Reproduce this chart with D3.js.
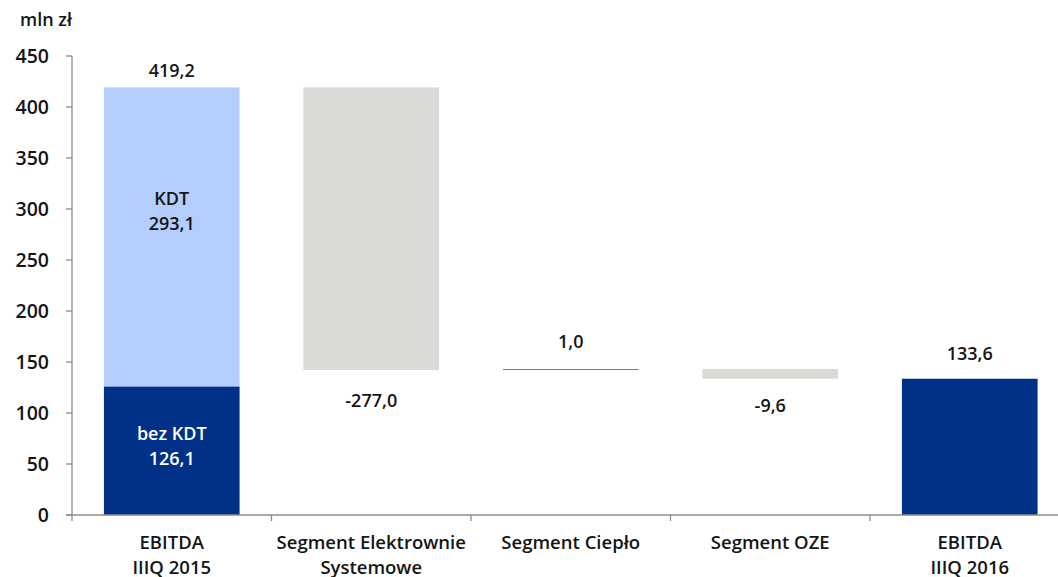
<!DOCTYPE html>
<html><head><meta charset="utf-8">
<script src="https://cdn.jsdelivr.net/npm/d3@7"></script>
<style>body{margin:0;background:#fff;} svg{display:block;font-family:"Open Sans","Noto Sans",sans-serif;}</style>
</head><body>
<svg id="c" width="1058" height="577"></svg>
<script>
const categories = ["EBITDA\nIIIQ 2015", "Segment Elektrownie\nSystemowe", "Segment Ciepło", "Segment OZE", "EBITDA\nIIIQ 2016"];
const startTotalParts = [126.1, 293.1];        // bez KDT, KDT
const partLabels = ["bez KDT", "KDT"];
const deltas = [-277.0, 1.0, -9.6];
const endTotal = 133.6;
const yTicks = [0, 50, 100, 150, 200, 250, 300, 350, 400, 450];
const valueLabels = ["419,2", "-277,0", "1,0", "-9,6", "133,6"];
const partValueLabels = ["126,1", "293,1"];

const svg = d3.select("#c");
const x0 = 72, y0 = 515;
const x = d3.scaleBand().domain(categories).range([x0, x0 + 5 * 199.5]).paddingInner(0.32).paddingOuter(0.16);
const y = d3.scaleLinear().domain([0, 450]).range([y0, 56]);
const FS = 18, FW = 600, TXT = "#151515";

const startTotal = startTotalParts[0] + startTotalParts[1];
const g = svg.append("g");
g.append("rect").attr("x", x(categories[0])).attr("width", x.bandwidth())
  .attr("y", y(startTotalParts[0])).attr("height", y(0) - y(startTotalParts[0])).attr("fill", "#003087");
g.append("rect").attr("x", x(categories[0])).attr("width", x.bandwidth())
  .attr("y", y(startTotal)).attr("height", y(startTotalParts[0]) - y(startTotal)).attr("fill", "#b4cdfb");
let cum = startTotal;
const deltaInfo = [];
deltas.forEach((d, i) => {
  const a = cum, b = cum + d;
  const lo = Math.min(a, b), hi = Math.max(a, b);
  const cat = categories[i + 1];
  const isSmallPos = d > 0 && d < 2;
  g.append("rect").attr("x", x(cat)).attr("width", x.bandwidth())
    .attr("y", isSmallPos ? Math.round(y(hi)) : y(hi))
    .attr("height", isSmallPos ? 1 : y(lo) - y(hi))
    .attr("fill", isSmallPos ? "#7a7a7a" : "#d9d9d5");
  deltaInfo.push({cat, lo, hi, d});
  cum = b;
});
g.append("rect").attr("x", x(categories[4])).attr("width", x.bandwidth())
  .attr("y", y(endTotal)).attr("height", y(0) - y(endTotal)).attr("fill", "#003087");

// axes
svg.append("line").attr("x1", x0).attr("x2", x0).attr("y1", y(450)).attr("y2", y0).attr("stroke", "#8c8c8c").attr("stroke-width", 1.3);
svg.append("line").attr("x1", 66).attr("x2", 1058).attr("y1", y0).attr("y2", y0).attr("stroke", "#8c8c8c").attr("stroke-width", 1.3);
yTicks.forEach(t => {
  svg.append("line").attr("x1", 66).attr("x2", x0).attr("y1", y(t)).attr("y2", y(t)).attr("stroke", "#8c8c8c").attr("stroke-width", 1.3);
  svg.append("text").attr("x", 49).attr("y", y(t)).attr("dy", "0.36em").attr("text-anchor", "end")
    .attr("font-size", 19.5).attr("font-weight", FW).attr("fill", TXT).text(t);
});
const step = x.step();
for (let i = 0; i <= 5; i++) {
  const tx = x0 + i * step;
  svg.append("line").attr("x1", tx).attr("x2", tx).attr("y1", y0).attr("y2", y0 + 6).attr("stroke", "#8c8c8c").attr("stroke-width", 1.3);
}
categories.forEach(c => {
  const lines = c.split("\n");
  const t = svg.append("text").attr("text-anchor", "middle").attr("font-size", FS + 0.5).attr("font-weight", FW).attr("fill", TXT);
  lines.forEach((l, k) => t.append("tspan").attr("x", x(c) + x.bandwidth() / 2).attr("y", 549 + k * 25).text(l));
});
svg.append("text").attr("x", 20).attr("y", 26).attr("font-size", FS).attr("font-weight", FW).attr("fill", TXT).text("mln zł");

const cx = c => x(c) + x.bandwidth() / 2;
const lab = (xx, yy, txt, col) => svg.append("text").attr("x", xx).attr("y", yy).attr("text-anchor", "middle")
  .attr("font-size", FS).attr("font-weight", FW).attr("fill", col || TXT).text(txt);
lab(cx(categories[0]), y(startTotal) - 10, valueLabels[0]);
deltaInfo.forEach((d, i) => {
  if (d.d < 0) lab(cx(d.cat), y(d.lo) + (i === 0 ? 37 : 33), valueLabels[i + 1]);
  else lab(cx(d.cat), y(d.hi) - 21, valueLabels[i + 1]);
});
lab(cx(categories[4]), y(endTotal) - 19, valueLabels[4]);
lab(cx(categories[0]), 205, partLabels[1]);
lab(cx(categories[0]), 230, partValueLabels[1]);
lab(cx(categories[0]), 440, partLabels[0], "#fff");
lab(cx(categories[0]), 465, partValueLabels[0], "#fff");
</script>
</body></html>
